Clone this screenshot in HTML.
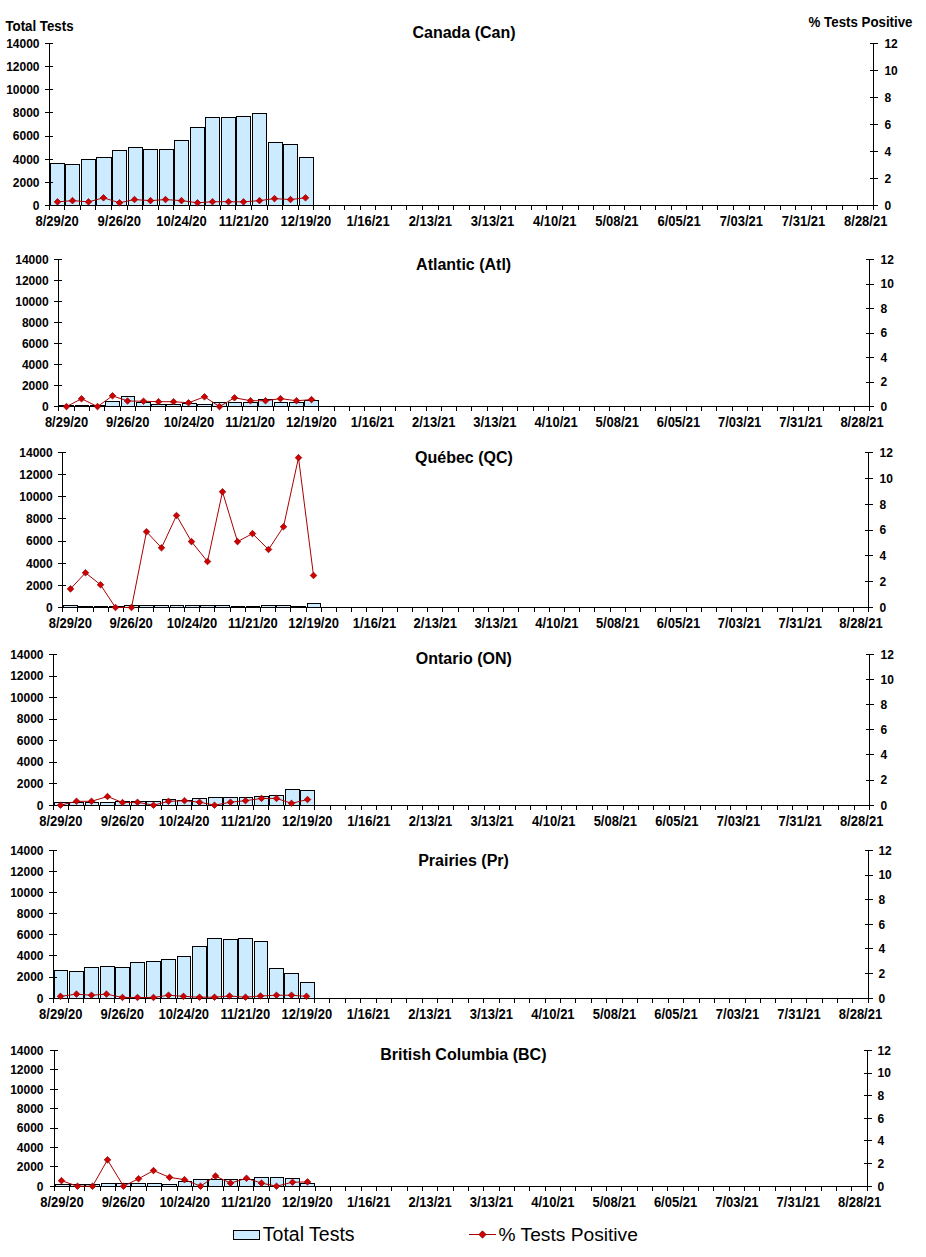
<!DOCTYPE html><html><head><meta charset="utf-8"><style>html,body{margin:0;padding:0;background:#fff;}body{width:926px;height:1257px;overflow:hidden;}svg{display:block;}text{font-family:"Liberation Sans",sans-serif;fill:#000;}.b{font-weight:bold;}</style></head><body>
<svg width="926" height="1257" viewBox="0 0 926 1257">
<g shape-rendering="crispEdges"><rect x="50.5" y="163.5" width="14" height="42" fill="#CCEBFF" stroke="#000" stroke-width="1"/><rect x="65.5" y="164.5" width="14" height="41" fill="#CCEBFF" stroke="#000" stroke-width="1"/><rect x="81.5" y="159.5" width="14" height="46" fill="#CCEBFF" stroke="#000" stroke-width="1"/><rect x="96.5" y="157.5" width="15" height="48" fill="#CCEBFF" stroke="#000" stroke-width="1"/><rect x="112.5" y="150.5" width="14" height="55" fill="#CCEBFF" stroke="#000" stroke-width="1"/><rect x="128.5" y="147.5" width="14" height="58" fill="#CCEBFF" stroke="#000" stroke-width="1"/><rect x="143.5" y="149.5" width="14" height="56" fill="#CCEBFF" stroke="#000" stroke-width="1"/><rect x="159.5" y="149.5" width="14" height="56" fill="#CCEBFF" stroke="#000" stroke-width="1"/><rect x="174.5" y="140.5" width="14" height="65" fill="#CCEBFF" stroke="#000" stroke-width="1"/><rect x="190.5" y="127.5" width="14" height="78" fill="#CCEBFF" stroke="#000" stroke-width="1"/><rect x="205.5" y="117.5" width="14" height="88" fill="#CCEBFF" stroke="#000" stroke-width="1"/><rect x="221.5" y="117.5" width="14" height="88" fill="#CCEBFF" stroke="#000" stroke-width="1"/><rect x="236.5" y="116.5" width="14" height="89" fill="#CCEBFF" stroke="#000" stroke-width="1"/><rect x="252.5" y="113.5" width="14" height="92" fill="#CCEBFF" stroke="#000" stroke-width="1"/><rect x="268.5" y="142.5" width="14" height="63" fill="#CCEBFF" stroke="#000" stroke-width="1"/><rect x="283.5" y="144.5" width="14" height="61" fill="#CCEBFF" stroke="#000" stroke-width="1"/><rect x="299.5" y="157.5" width="14" height="48" fill="#CCEBFF" stroke="#000" stroke-width="1"/><path d="M49.5 43 V206 M873.5 43 V206 M49 205.5 H874" stroke="#000" stroke-width="1" fill="none"/><path d="M45 205.5 H53 M45 182.5 H53 M45 159.5 H53 M45 136.5 H53 M45 112.5 H53 M45 89.5 H53 M45 66.5 H53 M45 43.5 H53 M870 205.5 H878 M870 178.5 H878 M870 151.5 H878 M870 124.5 H878 M870 97.5 H878 M870 70.5 H878 M870 43.5 H878 M49.5 205 V210 M64.5 205 V210 M80.5 205 V210 M95.5 205 V210 M111.5 205 V210 M127.5 205 V210 M142.5 205 V210 M158.5 205 V210 M173.5 205 V210 M189.5 205 V210 M204.5 205 V210 M220.5 205 V210 M235.5 205 V210 M251.5 205 V210 M267.5 205 V210 M282.5 205 V210 M298.5 205 V210 M313.5 205 V210 M329.5 205 V210 M344.5 205 V210 M360.5 205 V210 M375.5 205 V210 M391.5 205 V210 M406.5 205 V210 M422.5 205 V210 M438.5 205 V210 M453.5 205 V210 M469.5 205 V210 M484.5 205 V210 M500.5 205 V210 M515.5 205 V210 M531.5 205 V210 M546.5 205 V210 M562.5 205 V210 M578.5 205 V210 M593.5 205 V210 M609.5 205 V210 M624.5 205 V210 M640.5 205 V210 M655.5 205 V210 M671.5 205 V210 M686.5 205 V210 M702.5 205 V210 M717.5 205 V210 M733.5 205 V210 M749.5 205 V210 M764.5 205 V210 M780.5 205 V210 M795.5 205 V210 M811.5 205 V210 M826.5 205 V210 M842.5 205 V210 M857.5 205 V210 M873.5 205 V210" stroke="#000" stroke-width="1" fill="none"/><path d="M57.50 201.85 L72.50 200.64 L88.50 201.85 L103.50 197.81 L119.50 202.80 L134.50 199.56 L150.50 200.64 L165.50 199.56 L181.50 200.64 L197.50 202.80 L212.50 201.72 L228.50 201.72 L243.50 201.85 L259.50 200.64 L274.50 198.62 L290.50 199.56 L305.50 197.81" stroke="#A80000" stroke-width="1" fill="none" shape-rendering="auto"/><path d="M57.50 198.55 L60.80 201.85 L57.50 205.16 L54.20 201.85Z" fill="#D00000" stroke="#8A0000" stroke-width="0.7" shape-rendering="auto"/><path d="M72.50 197.34 L75.80 200.64 L72.50 203.94 L69.20 200.64Z" fill="#D00000" stroke="#8A0000" stroke-width="0.7" shape-rendering="auto"/><path d="M88.50 198.55 L91.80 201.85 L88.50 205.16 L85.20 201.85Z" fill="#D00000" stroke="#8A0000" stroke-width="0.7" shape-rendering="auto"/><path d="M103.50 194.50 L106.80 197.81 L103.50 201.11 L100.20 197.81Z" fill="#D00000" stroke="#8A0000" stroke-width="0.7" shape-rendering="auto"/><path d="M119.50 199.50 L122.80 202.80 L119.50 206.10 L116.20 202.80Z" fill="#D00000" stroke="#8A0000" stroke-width="0.7" shape-rendering="auto"/><path d="M134.50 196.26 L137.80 199.56 L134.50 202.86 L131.20 199.56Z" fill="#D00000" stroke="#8A0000" stroke-width="0.7" shape-rendering="auto"/><path d="M150.50 197.34 L153.80 200.64 L150.50 203.94 L147.20 200.64Z" fill="#D00000" stroke="#8A0000" stroke-width="0.7" shape-rendering="auto"/><path d="M165.50 196.26 L168.80 199.56 L165.50 202.86 L162.20 199.56Z" fill="#D00000" stroke="#8A0000" stroke-width="0.7" shape-rendering="auto"/><path d="M181.50 197.34 L184.80 200.64 L181.50 203.94 L178.20 200.64Z" fill="#D00000" stroke="#8A0000" stroke-width="0.7" shape-rendering="auto"/><path d="M197.50 199.50 L200.80 202.80 L197.50 206.10 L194.20 202.80Z" fill="#D00000" stroke="#8A0000" stroke-width="0.7" shape-rendering="auto"/><path d="M212.50 198.42 L215.80 201.72 L212.50 205.02 L209.20 201.72Z" fill="#D00000" stroke="#8A0000" stroke-width="0.7" shape-rendering="auto"/><path d="M228.50 198.42 L231.80 201.72 L228.50 205.02 L225.20 201.72Z" fill="#D00000" stroke="#8A0000" stroke-width="0.7" shape-rendering="auto"/><path d="M243.50 198.55 L246.80 201.85 L243.50 205.16 L240.20 201.85Z" fill="#D00000" stroke="#8A0000" stroke-width="0.7" shape-rendering="auto"/><path d="M259.50 197.34 L262.80 200.64 L259.50 203.94 L256.20 200.64Z" fill="#D00000" stroke="#8A0000" stroke-width="0.7" shape-rendering="auto"/><path d="M274.50 195.31 L277.80 198.62 L274.50 201.92 L271.20 198.62Z" fill="#D00000" stroke="#8A0000" stroke-width="0.7" shape-rendering="auto"/><path d="M290.50 196.26 L293.80 199.56 L290.50 202.86 L287.20 199.56Z" fill="#D00000" stroke="#8A0000" stroke-width="0.7" shape-rendering="auto"/><path d="M305.50 194.50 L308.80 197.81 L305.50 201.11 L302.20 197.81Z" fill="#D00000" stroke="#8A0000" stroke-width="0.7" shape-rendering="auto"/></g>
<text class="b" x="39.5" y="209.8" font-size="12" text-anchor="end">0</text>
<text class="b" x="39.5" y="186.7" font-size="12" text-anchor="end">2000</text>
<text class="b" x="39.5" y="163.5" font-size="12" text-anchor="end">4000</text>
<text class="b" x="39.5" y="140.4" font-size="12" text-anchor="end">6000</text>
<text class="b" x="39.5" y="117.2" font-size="12" text-anchor="end">8000</text>
<text class="b" x="39.5" y="94.1" font-size="12" text-anchor="end">10000</text>
<text class="b" x="39.5" y="70.9" font-size="12" text-anchor="end">12000</text>
<text class="b" x="39.5" y="47.8" font-size="12" text-anchor="end">14000</text>
<text class="b" x="884.4" y="209.8" font-size="12">0</text>
<text class="b" x="884.4" y="182.8" font-size="12">2</text>
<text class="b" x="884.4" y="155.8" font-size="12">4</text>
<text class="b" x="884.4" y="128.8" font-size="12">6</text>
<text class="b" x="884.4" y="101.8" font-size="12">8</text>
<text class="b" x="884.4" y="74.8" font-size="12">10</text>
<text class="b" x="884.4" y="47.8" font-size="12">12</text>
<text class="b" transform="translate(57.08 226.10) scale(1 1.1)" font-size="13" text-anchor="middle">8/29/20</text>
<text class="b" transform="translate(119.28 226.10) scale(1 1.1)" font-size="13" text-anchor="middle">9/26/20</text>
<text class="b" transform="translate(181.48 226.10) scale(1 1.1)" font-size="13" text-anchor="middle">10/24/20</text>
<text class="b" transform="translate(243.69 226.10) scale(1 1.1)" font-size="13" text-anchor="middle">11/21/20</text>
<text class="b" transform="translate(305.89 226.10) scale(1 1.1)" font-size="13" text-anchor="middle">12/19/20</text>
<text class="b" transform="translate(368.09 226.10) scale(1 1.1)" font-size="13" text-anchor="middle">1/16/21</text>
<text class="b" transform="translate(430.30 226.10) scale(1 1.1)" font-size="13" text-anchor="middle">2/13/21</text>
<text class="b" transform="translate(492.50 226.10) scale(1 1.1)" font-size="13" text-anchor="middle">3/13/21</text>
<text class="b" transform="translate(554.71 226.10) scale(1 1.1)" font-size="13" text-anchor="middle">4/10/21</text>
<text class="b" transform="translate(616.91 226.10) scale(1 1.1)" font-size="13" text-anchor="middle">5/08/21</text>
<text class="b" transform="translate(679.11 226.10) scale(1 1.1)" font-size="13" text-anchor="middle">6/05/21</text>
<text class="b" transform="translate(741.32 226.10) scale(1 1.1)" font-size="13" text-anchor="middle">7/03/21</text>
<text class="b" transform="translate(803.52 226.10) scale(1 1.1)" font-size="13" text-anchor="middle">7/31/21</text>
<text class="b" transform="translate(865.72 226.10) scale(1 1.1)" font-size="13" text-anchor="middle">8/28/21</text>
<text class="b" x="464.0" y="37.5" font-size="16" text-anchor="middle">Canada (Can)</text>
<g shape-rendering="crispEdges"><rect x="59.5" y="405.5" width="14" height="1" fill="#CCEBFF" stroke="#000" stroke-width="1"/><rect x="75.5" y="405.5" width="13" height="1" fill="#CCEBFF" stroke="#000" stroke-width="1"/><rect x="90.5" y="405.5" width="14" height="1" fill="#CCEBFF" stroke="#000" stroke-width="1"/><rect x="105.5" y="401.5" width="14" height="5" fill="#CCEBFF" stroke="#000" stroke-width="1"/><rect x="121.5" y="396.5" width="13" height="10" fill="#CCEBFF" stroke="#000" stroke-width="1"/><rect x="136.5" y="402.5" width="14" height="4" fill="#CCEBFF" stroke="#000" stroke-width="1"/><rect x="151.5" y="404.5" width="14" height="2" fill="#CCEBFF" stroke="#000" stroke-width="1"/><rect x="166.5" y="404.5" width="14" height="2" fill="#CCEBFF" stroke="#000" stroke-width="1"/><rect x="182.5" y="403.5" width="14" height="3" fill="#CCEBFF" stroke="#000" stroke-width="1"/><rect x="197.5" y="404.5" width="14" height="2" fill="#CCEBFF" stroke="#000" stroke-width="1"/><rect x="212.5" y="402.5" width="14" height="4" fill="#CCEBFF" stroke="#000" stroke-width="1"/><rect x="228.5" y="402.5" width="13" height="4" fill="#CCEBFF" stroke="#000" stroke-width="1"/><rect x="243.5" y="402.5" width="14" height="4" fill="#CCEBFF" stroke="#000" stroke-width="1"/><rect x="258.5" y="399.5" width="14" height="7" fill="#CCEBFF" stroke="#000" stroke-width="1"/><rect x="274.5" y="402.5" width="13" height="4" fill="#CCEBFF" stroke="#000" stroke-width="1"/><rect x="289.5" y="402.5" width="14" height="4" fill="#CCEBFF" stroke="#000" stroke-width="1"/><rect x="304.5" y="400.5" width="14" height="6" fill="#CCEBFF" stroke="#000" stroke-width="1"/><path d="M58.5 259 V407 M869.5 259 V407 M58 406.5 H870" stroke="#000" stroke-width="1" fill="none"/><path d="M54 406.5 H62 M54 385.5 H62 M54 364.5 H62 M54 343.5 H62 M54 322.5 H62 M54 301.5 H62 M54 280.5 H62 M54 259.5 H62 M866 406.5 H874 M866 382.5 H874 M866 357.5 H874 M866 333.5 H874 M866 308.5 H874 M866 284.5 H874 M866 259.5 H874 M58.5 406 V411 M74.5 406 V411 M89.5 406 V411 M104.5 406 V411 M120.5 406 V411 M135.5 406 V411 M150.5 406 V411 M165.5 406 V411 M181.5 406 V411 M196.5 406 V411 M211.5 406 V411 M227.5 406 V411 M242.5 406 V411 M257.5 406 V411 M273.5 406 V411 M288.5 406 V411 M303.5 406 V411 M318.5 406 V411 M334.5 406 V411 M349.5 406 V411 M364.5 406 V411 M380.5 406 V411 M395.5 406 V411 M410.5 406 V411 M426.5 406 V411 M441.5 406 V411 M456.5 406 V411 M471.5 406 V411 M487.5 406 V411 M502.5 406 V411 M517.5 406 V411 M533.5 406 V411 M548.5 406 V411 M563.5 406 V411 M579.5 406 V411 M594.5 406 V411 M609.5 406 V411 M624.5 406 V411 M640.5 406 V411 M655.5 406 V411 M670.5 406 V411 M686.5 406 V411 M701.5 406 V411 M716.5 406 V411 M732.5 406 V411 M747.5 406 V411 M762.5 406 V411 M777.5 406 V411 M793.5 406 V411 M808.5 406 V411 M823.5 406 V411 M839.5 406 V411 M854.5 406 V411 M869.5 406 V411" stroke="#000" stroke-width="1" fill="none"/><path d="M66.50 406.60 L81.50 398.76 L97.50 406.60 L112.50 395.82 L127.50 400.97 L143.50 401.21 L158.50 401.70 L173.50 401.70 L188.50 402.80 L204.50 396.80 L219.50 406.60 L234.50 397.78 L250.50 400.72 L265.50 400.72 L280.50 398.64 L296.50 400.72 L311.50 399.62" stroke="#A80000" stroke-width="1" fill="none" shape-rendering="auto"/><path d="M66.50 403.30 L69.80 406.60 L66.50 409.90 L63.20 406.60Z" fill="#D00000" stroke="#8A0000" stroke-width="0.7" shape-rendering="auto"/><path d="M81.50 395.46 L84.80 398.76 L81.50 402.06 L78.20 398.76Z" fill="#D00000" stroke="#8A0000" stroke-width="0.7" shape-rendering="auto"/><path d="M97.50 403.30 L100.80 406.60 L97.50 409.90 L94.20 406.60Z" fill="#D00000" stroke="#8A0000" stroke-width="0.7" shape-rendering="auto"/><path d="M112.50 392.52 L115.80 395.82 L112.50 399.12 L109.20 395.82Z" fill="#D00000" stroke="#8A0000" stroke-width="0.7" shape-rendering="auto"/><path d="M127.50 397.67 L130.80 400.97 L127.50 404.27 L124.20 400.97Z" fill="#D00000" stroke="#8A0000" stroke-width="0.7" shape-rendering="auto"/><path d="M143.50 397.91 L146.80 401.21 L143.50 404.51 L140.20 401.21Z" fill="#D00000" stroke="#8A0000" stroke-width="0.7" shape-rendering="auto"/><path d="M158.50 398.40 L161.80 401.70 L158.50 405.00 L155.20 401.70Z" fill="#D00000" stroke="#8A0000" stroke-width="0.7" shape-rendering="auto"/><path d="M173.50 398.40 L176.80 401.70 L173.50 405.00 L170.20 401.70Z" fill="#D00000" stroke="#8A0000" stroke-width="0.7" shape-rendering="auto"/><path d="M188.50 399.50 L191.80 402.80 L188.50 406.10 L185.20 402.80Z" fill="#D00000" stroke="#8A0000" stroke-width="0.7" shape-rendering="auto"/><path d="M204.50 393.50 L207.80 396.80 L204.50 400.10 L201.20 396.80Z" fill="#D00000" stroke="#8A0000" stroke-width="0.7" shape-rendering="auto"/><path d="M219.50 403.30 L222.80 406.60 L219.50 409.90 L216.20 406.60Z" fill="#D00000" stroke="#8A0000" stroke-width="0.7" shape-rendering="auto"/><path d="M234.50 394.48 L237.80 397.78 L234.50 401.08 L231.20 397.78Z" fill="#D00000" stroke="#8A0000" stroke-width="0.7" shape-rendering="auto"/><path d="M250.50 397.42 L253.80 400.72 L250.50 404.02 L247.20 400.72Z" fill="#D00000" stroke="#8A0000" stroke-width="0.7" shape-rendering="auto"/><path d="M265.50 397.42 L268.80 400.72 L265.50 404.02 L262.20 400.72Z" fill="#D00000" stroke="#8A0000" stroke-width="0.7" shape-rendering="auto"/><path d="M280.50 395.34 L283.80 398.64 L280.50 401.94 L277.20 398.64Z" fill="#D00000" stroke="#8A0000" stroke-width="0.7" shape-rendering="auto"/><path d="M296.50 397.42 L299.80 400.72 L296.50 404.02 L293.20 400.72Z" fill="#D00000" stroke="#8A0000" stroke-width="0.7" shape-rendering="auto"/><path d="M311.50 396.32 L314.80 399.62 L311.50 402.92 L308.20 399.62Z" fill="#D00000" stroke="#8A0000" stroke-width="0.7" shape-rendering="auto"/></g>
<text class="b" x="48.6" y="410.9" font-size="12" text-anchor="end">0</text>
<text class="b" x="48.6" y="389.9" font-size="12" text-anchor="end">2000</text>
<text class="b" x="48.6" y="368.9" font-size="12" text-anchor="end">4000</text>
<text class="b" x="48.6" y="347.9" font-size="12" text-anchor="end">6000</text>
<text class="b" x="48.6" y="326.9" font-size="12" text-anchor="end">8000</text>
<text class="b" x="48.6" y="305.9" font-size="12" text-anchor="end">10000</text>
<text class="b" x="48.6" y="284.9" font-size="12" text-anchor="end">12000</text>
<text class="b" x="48.6" y="263.9" font-size="12" text-anchor="end">14000</text>
<text class="b" x="880.5" y="410.9" font-size="12">0</text>
<text class="b" x="880.5" y="386.4" font-size="12">2</text>
<text class="b" x="880.5" y="361.9" font-size="12">4</text>
<text class="b" x="880.5" y="337.4" font-size="12">6</text>
<text class="b" x="880.5" y="312.9" font-size="12">8</text>
<text class="b" x="880.5" y="288.4" font-size="12">10</text>
<text class="b" x="880.5" y="263.9" font-size="12">12</text>
<text class="b" transform="translate(66.55 427.10) scale(1 1.1)" font-size="13" text-anchor="middle">8/29/20</text>
<text class="b" transform="translate(127.74 427.10) scale(1 1.1)" font-size="13" text-anchor="middle">9/26/20</text>
<text class="b" transform="translate(188.93 427.10) scale(1 1.1)" font-size="13" text-anchor="middle">10/24/20</text>
<text class="b" transform="translate(250.13 427.10) scale(1 1.1)" font-size="13" text-anchor="middle">11/21/20</text>
<text class="b" transform="translate(311.32 427.10) scale(1 1.1)" font-size="13" text-anchor="middle">12/19/20</text>
<text class="b" transform="translate(372.51 427.10) scale(1 1.1)" font-size="13" text-anchor="middle">1/16/21</text>
<text class="b" transform="translate(433.70 427.10) scale(1 1.1)" font-size="13" text-anchor="middle">2/13/21</text>
<text class="b" transform="translate(494.90 427.10) scale(1 1.1)" font-size="13" text-anchor="middle">3/13/21</text>
<text class="b" transform="translate(556.09 427.10) scale(1 1.1)" font-size="13" text-anchor="middle">4/10/21</text>
<text class="b" transform="translate(617.28 427.10) scale(1 1.1)" font-size="13" text-anchor="middle">5/08/21</text>
<text class="b" transform="translate(678.47 427.10) scale(1 1.1)" font-size="13" text-anchor="middle">6/05/21</text>
<text class="b" transform="translate(739.67 427.10) scale(1 1.1)" font-size="13" text-anchor="middle">7/03/21</text>
<text class="b" transform="translate(800.86 427.10) scale(1 1.1)" font-size="13" text-anchor="middle">7/31/21</text>
<text class="b" transform="translate(862.05 427.10) scale(1 1.1)" font-size="13" text-anchor="middle">8/28/21</text>
<text class="b" x="463.65000000000003" y="270.09999999999997" font-size="16" text-anchor="middle">Atlantic (Atl)</text>
<g shape-rendering="crispEdges"><rect x="63.5" y="605.5" width="14" height="2" fill="#CCEBFF" stroke="#000" stroke-width="1"/><rect x="78.5" y="606.5" width="14" height="1" fill="#CCEBFF" stroke="#000" stroke-width="1"/><rect x="94.5" y="606.5" width="13" height="1" fill="#CCEBFF" stroke="#000" stroke-width="1"/><rect x="109.5" y="606.5" width="14" height="1" fill="#CCEBFF" stroke="#000" stroke-width="1"/><rect x="124.5" y="605.5" width="14" height="2" fill="#CCEBFF" stroke="#000" stroke-width="1"/><rect x="139.5" y="605.5" width="14" height="2" fill="#CCEBFF" stroke="#000" stroke-width="1"/><rect x="154.5" y="605.5" width="14" height="2" fill="#CCEBFF" stroke="#000" stroke-width="1"/><rect x="170.5" y="605.5" width="13" height="2" fill="#CCEBFF" stroke="#000" stroke-width="1"/><rect x="185.5" y="605.5" width="14" height="2" fill="#CCEBFF" stroke="#000" stroke-width="1"/><rect x="200.5" y="605.5" width="14" height="2" fill="#CCEBFF" stroke="#000" stroke-width="1"/><rect x="215.5" y="605.5" width="14" height="2" fill="#CCEBFF" stroke="#000" stroke-width="1"/><rect x="231.5" y="606.5" width="13" height="1" fill="#CCEBFF" stroke="#000" stroke-width="1"/><rect x="246.5" y="606.5" width="13" height="1" fill="#CCEBFF" stroke="#000" stroke-width="1"/><rect x="261.5" y="605.5" width="14" height="2" fill="#CCEBFF" stroke="#000" stroke-width="1"/><rect x="276.5" y="605.5" width="14" height="2" fill="#CCEBFF" stroke="#000" stroke-width="1"/><rect x="291.5" y="606.5" width="14" height="1" fill="#CCEBFF" stroke="#000" stroke-width="1"/><rect x="307.5" y="603.5" width="13" height="4" fill="#CCEBFF" stroke="#000" stroke-width="1"/><path d="M62.5 452 V608 M868.5 452 V608 M62 607.5 H869" stroke="#000" stroke-width="1" fill="none"/><path d="M58 607.5 H66 M58 585.5 H66 M58 563.5 H66 M58 541.5 H66 M58 518.5 H66 M58 496.5 H66 M58 474.5 H66 M58 452.5 H66 M865 607.5 H873 M865 581.5 H873 M865 555.5 H873 M865 530.5 H873 M865 504.5 H873 M865 478.5 H873 M865 452.5 H873 M62.5 607 V612 M77.5 607 V612 M93.5 607 V612 M108.5 607 V612 M123.5 607 V612 M138.5 607 V612 M153.5 607 V612 M169.5 607 V612 M184.5 607 V612 M199.5 607 V612 M214.5 607 V612 M230.5 607 V612 M245.5 607 V612 M260.5 607 V612 M275.5 607 V612 M290.5 607 V612 M306.5 607 V612 M321.5 607 V612 M336.5 607 V612 M351.5 607 V612 M366.5 607 V612 M382.5 607 V612 M397.5 607 V612 M412.5 607 V612 M427.5 607 V612 M442.5 607 V612 M458.5 607 V612 M473.5 607 V612 M488.5 607 V612 M503.5 607 V612 M518.5 607 V612 M534.5 607 V612 M549.5 607 V612 M564.5 607 V612 M579.5 607 V612 M594.5 607 V612 M610.5 607 V612 M625.5 607 V612 M640.5 607 V612 M655.5 607 V612 M670.5 607 V612 M686.5 607 V612 M701.5 607 V612 M716.5 607 V612 M731.5 607 V612 M746.5 607 V612 M762.5 607 V612 M777.5 607 V612 M792.5 607 V612 M807.5 607 V612 M822.5 607 V612 M838.5 607 V612 M853.5 607 V612 M868.5 607 V612" stroke="#000" stroke-width="1" fill="none"/><path d="M70.50 588.90 L85.50 572.75 L100.50 584.77 L115.50 607.50 L131.50 607.50 L146.50 531.68 L161.50 547.83 L176.50 515.53 L191.50 541.62 L207.50 561.52 L222.50 491.77 L237.50 541.62 L252.50 533.62 L268.50 549.50 L283.50 526.77 L298.50 457.67 L313.50 575.47" stroke="#A80000" stroke-width="1" fill="none" shape-rendering="auto"/><path d="M70.50 585.60 L73.80 588.90 L70.50 592.20 L67.20 588.90Z" fill="#D00000" stroke="#8A0000" stroke-width="0.7" shape-rendering="auto"/><path d="M85.50 569.45 L88.80 572.75 L85.50 576.05 L82.20 572.75Z" fill="#D00000" stroke="#8A0000" stroke-width="0.7" shape-rendering="auto"/><path d="M100.50 581.47 L103.80 584.77 L100.50 588.07 L97.20 584.77Z" fill="#D00000" stroke="#8A0000" stroke-width="0.7" shape-rendering="auto"/><path d="M115.50 604.20 L118.80 607.50 L115.50 610.80 L112.20 607.50Z" fill="#D00000" stroke="#8A0000" stroke-width="0.7" shape-rendering="auto"/><path d="M131.50 604.20 L134.80 607.50 L131.50 610.80 L128.20 607.50Z" fill="#D00000" stroke="#8A0000" stroke-width="0.7" shape-rendering="auto"/><path d="M146.50 528.38 L149.80 531.68 L146.50 534.98 L143.20 531.68Z" fill="#D00000" stroke="#8A0000" stroke-width="0.7" shape-rendering="auto"/><path d="M161.50 544.53 L164.80 547.83 L161.50 551.12 L158.20 547.83Z" fill="#D00000" stroke="#8A0000" stroke-width="0.7" shape-rendering="auto"/><path d="M176.50 512.23 L179.80 515.53 L176.50 518.83 L173.20 515.53Z" fill="#D00000" stroke="#8A0000" stroke-width="0.7" shape-rendering="auto"/><path d="M191.50 538.33 L194.80 541.62 L191.50 544.92 L188.20 541.62Z" fill="#D00000" stroke="#8A0000" stroke-width="0.7" shape-rendering="auto"/><path d="M207.50 558.22 L210.80 561.52 L207.50 564.82 L204.20 561.52Z" fill="#D00000" stroke="#8A0000" stroke-width="0.7" shape-rendering="auto"/><path d="M222.50 488.47 L225.80 491.77 L222.50 495.07 L219.20 491.77Z" fill="#D00000" stroke="#8A0000" stroke-width="0.7" shape-rendering="auto"/><path d="M237.50 538.33 L240.80 541.62 L237.50 544.92 L234.20 541.62Z" fill="#D00000" stroke="#8A0000" stroke-width="0.7" shape-rendering="auto"/><path d="M252.50 530.32 L255.80 533.62 L252.50 536.92 L249.20 533.62Z" fill="#D00000" stroke="#8A0000" stroke-width="0.7" shape-rendering="auto"/><path d="M268.50 546.20 L271.80 549.50 L268.50 552.80 L265.20 549.50Z" fill="#D00000" stroke="#8A0000" stroke-width="0.7" shape-rendering="auto"/><path d="M283.50 523.47 L286.80 526.77 L283.50 530.07 L280.20 526.77Z" fill="#D00000" stroke="#8A0000" stroke-width="0.7" shape-rendering="auto"/><path d="M298.50 454.37 L301.80 457.67 L298.50 460.97 L295.20 457.67Z" fill="#D00000" stroke="#8A0000" stroke-width="0.7" shape-rendering="auto"/><path d="M313.50 572.17 L316.80 575.47 L313.50 578.77 L310.20 575.47Z" fill="#D00000" stroke="#8A0000" stroke-width="0.7" shape-rendering="auto"/></g>
<text class="b" x="52.7" y="611.8" font-size="12" text-anchor="end">0</text>
<text class="b" x="52.7" y="589.7" font-size="12" text-anchor="end">2000</text>
<text class="b" x="52.7" y="567.5" font-size="12" text-anchor="end">4000</text>
<text class="b" x="52.7" y="545.4" font-size="12" text-anchor="end">6000</text>
<text class="b" x="52.7" y="523.2" font-size="12" text-anchor="end">8000</text>
<text class="b" x="52.7" y="501.1" font-size="12" text-anchor="end">10000</text>
<text class="b" x="52.7" y="478.9" font-size="12" text-anchor="end">12000</text>
<text class="b" x="52.7" y="456.8" font-size="12" text-anchor="end">14000</text>
<text class="b" x="879.5" y="611.8" font-size="12">0</text>
<text class="b" x="879.5" y="586.0" font-size="12">2</text>
<text class="b" x="879.5" y="560.1" font-size="12">4</text>
<text class="b" x="879.5" y="534.3" font-size="12">6</text>
<text class="b" x="879.5" y="508.5" font-size="12">8</text>
<text class="b" x="879.5" y="482.6" font-size="12">10</text>
<text class="b" x="879.5" y="456.8" font-size="12">12</text>
<text class="b" transform="translate(70.35 628.10) scale(1 1.1)" font-size="13" text-anchor="middle">8/29/20</text>
<text class="b" transform="translate(131.17 628.10) scale(1 1.1)" font-size="13" text-anchor="middle">9/26/20</text>
<text class="b" transform="translate(191.99 628.10) scale(1 1.1)" font-size="13" text-anchor="middle">10/24/20</text>
<text class="b" transform="translate(252.81 628.10) scale(1 1.1)" font-size="13" text-anchor="middle">11/21/20</text>
<text class="b" transform="translate(313.63 628.10) scale(1 1.1)" font-size="13" text-anchor="middle">12/19/20</text>
<text class="b" transform="translate(374.45 628.10) scale(1 1.1)" font-size="13" text-anchor="middle">1/16/21</text>
<text class="b" transform="translate(435.27 628.10) scale(1 1.1)" font-size="13" text-anchor="middle">2/13/21</text>
<text class="b" transform="translate(496.08 628.10) scale(1 1.1)" font-size="13" text-anchor="middle">3/13/21</text>
<text class="b" transform="translate(556.90 628.10) scale(1 1.1)" font-size="13" text-anchor="middle">4/10/21</text>
<text class="b" transform="translate(617.72 628.10) scale(1 1.1)" font-size="13" text-anchor="middle">5/08/21</text>
<text class="b" transform="translate(678.54 628.10) scale(1 1.1)" font-size="13" text-anchor="middle">6/05/21</text>
<text class="b" transform="translate(739.36 628.10) scale(1 1.1)" font-size="13" text-anchor="middle">7/03/21</text>
<text class="b" transform="translate(800.18 628.10) scale(1 1.1)" font-size="13" text-anchor="middle">7/31/21</text>
<text class="b" transform="translate(861.00 628.10) scale(1 1.1)" font-size="13" text-anchor="middle">8/28/21</text>
<text class="b" x="463.95" y="463.09999999999997" font-size="16" text-anchor="middle">Québec (QC)</text>
<g shape-rendering="crispEdges"><rect x="54.5" y="802.5" width="14" height="3" fill="#CCEBFF" stroke="#000" stroke-width="1"/><rect x="69.5" y="802.5" width="14" height="3" fill="#CCEBFF" stroke="#000" stroke-width="1"/><rect x="85.5" y="802.5" width="13" height="3" fill="#CCEBFF" stroke="#000" stroke-width="1"/><rect x="100.5" y="802.5" width="14" height="3" fill="#CCEBFF" stroke="#000" stroke-width="1"/><rect x="115.5" y="801.5" width="14" height="4" fill="#CCEBFF" stroke="#000" stroke-width="1"/><rect x="131.5" y="801.5" width="14" height="4" fill="#CCEBFF" stroke="#000" stroke-width="1"/><rect x="146.5" y="801.5" width="14" height="4" fill="#CCEBFF" stroke="#000" stroke-width="1"/><rect x="162.5" y="799.5" width="13" height="6" fill="#CCEBFF" stroke="#000" stroke-width="1"/><rect x="177.5" y="800.5" width="14" height="5" fill="#CCEBFF" stroke="#000" stroke-width="1"/><rect x="192.5" y="798.5" width="14" height="7" fill="#CCEBFF" stroke="#000" stroke-width="1"/><rect x="208.5" y="797.5" width="14" height="8" fill="#CCEBFF" stroke="#000" stroke-width="1"/><rect x="223.5" y="797.5" width="14" height="8" fill="#CCEBFF" stroke="#000" stroke-width="1"/><rect x="239.5" y="797.5" width="13" height="8" fill="#CCEBFF" stroke="#000" stroke-width="1"/><rect x="254.5" y="796.5" width="14" height="9" fill="#CCEBFF" stroke="#000" stroke-width="1"/><rect x="269.5" y="795.5" width="14" height="10" fill="#CCEBFF" stroke="#000" stroke-width="1"/><rect x="285.5" y="789.5" width="14" height="16" fill="#CCEBFF" stroke="#000" stroke-width="1"/><rect x="300.5" y="790.5" width="14" height="15" fill="#CCEBFF" stroke="#000" stroke-width="1"/><path d="M53.5 654 V806 M869.5 654 V806 M53 805.5 H870" stroke="#000" stroke-width="1" fill="none"/><path d="M49 805.5 H57 M49 783.5 H57 M49 762.5 H57 M49 740.5 H57 M49 719.5 H57 M49 697.5 H57 M49 676.5 H57 M49 654.5 H57 M866 805.5 H874 M866 780.5 H874 M866 754.5 H874 M866 729.5 H874 M866 704.5 H874 M866 679.5 H874 M866 654.5 H874 M53.5 805 V810 M68.5 805 V810 M84.5 805 V810 M99.5 805 V810 M114.5 805 V810 M130.5 805 V810 M145.5 805 V810 M161.5 805 V810 M176.5 805 V810 M191.5 805 V810 M207.5 805 V810 M222.5 805 V810 M238.5 805 V810 M253.5 805 V810 M268.5 805 V810 M284.5 805 V810 M299.5 805 V810 M314.5 805 V810 M330.5 805 V810 M345.5 805 V810 M361.5 805 V810 M376.5 805 V810 M391.5 805 V810 M407.5 805 V810 M422.5 805 V810 M438.5 805 V810 M453.5 805 V810 M468.5 805 V810 M484.5 805 V810 M499.5 805 V810 M515.5 805 V810 M530.5 805 V810 M546.5 805 V810 M561.5 805 V810 M576.5 805 V810 M592.5 805 V810 M607.5 805 V810 M623.5 805 V810 M638.5 805 V810 M653.5 805 V810 M669.5 805 V810 M684.5 805 V810 M700.5 805 V810 M715.5 805 V810 M730.5 805 V810 M746.5 805 V810 M761.5 805 V810 M777.5 805 V810 M792.5 805 V810 M807.5 805 V810 M823.5 805 V810 M838.5 805 V810 M854.5 805 V810 M869.5 805 V810" stroke="#000" stroke-width="1" fill="none"/><path d="M60.50 805.20 L76.50 801.31 L91.50 801.31 L107.50 796.53 L122.50 802.56 L137.50 802.31 L153.50 805.20 L168.50 801.31 L184.50 800.68 L199.50 802.19 L214.50 805.20 L230.50 802.19 L245.50 800.68 L261.50 798.42 L276.50 798.42 L291.50 803.32 L307.50 799.55" stroke="#A80000" stroke-width="1" fill="none" shape-rendering="auto"/><path d="M60.50 801.90 L63.80 805.20 L60.50 808.50 L57.20 805.20Z" fill="#D00000" stroke="#8A0000" stroke-width="0.7" shape-rendering="auto"/><path d="M76.50 798.01 L79.80 801.31 L76.50 804.61 L73.20 801.31Z" fill="#D00000" stroke="#8A0000" stroke-width="0.7" shape-rendering="auto"/><path d="M91.50 798.01 L94.80 801.31 L91.50 804.61 L88.20 801.31Z" fill="#D00000" stroke="#8A0000" stroke-width="0.7" shape-rendering="auto"/><path d="M107.50 793.23 L110.80 796.53 L107.50 799.83 L104.20 796.53Z" fill="#D00000" stroke="#8A0000" stroke-width="0.7" shape-rendering="auto"/><path d="M122.50 799.26 L125.80 802.56 L122.50 805.86 L119.20 802.56Z" fill="#D00000" stroke="#8A0000" stroke-width="0.7" shape-rendering="auto"/><path d="M137.50 799.01 L140.80 802.31 L137.50 805.61 L134.20 802.31Z" fill="#D00000" stroke="#8A0000" stroke-width="0.7" shape-rendering="auto"/><path d="M153.50 801.90 L156.80 805.20 L153.50 808.50 L150.20 805.20Z" fill="#D00000" stroke="#8A0000" stroke-width="0.7" shape-rendering="auto"/><path d="M168.50 798.01 L171.80 801.31 L168.50 804.61 L165.20 801.31Z" fill="#D00000" stroke="#8A0000" stroke-width="0.7" shape-rendering="auto"/><path d="M184.50 797.38 L187.80 800.68 L184.50 803.98 L181.20 800.68Z" fill="#D00000" stroke="#8A0000" stroke-width="0.7" shape-rendering="auto"/><path d="M199.50 798.89 L202.80 802.19 L199.50 805.49 L196.20 802.19Z" fill="#D00000" stroke="#8A0000" stroke-width="0.7" shape-rendering="auto"/><path d="M214.50 801.90 L217.80 805.20 L214.50 808.50 L211.20 805.20Z" fill="#D00000" stroke="#8A0000" stroke-width="0.7" shape-rendering="auto"/><path d="M230.50 798.89 L233.80 802.19 L230.50 805.49 L227.20 802.19Z" fill="#D00000" stroke="#8A0000" stroke-width="0.7" shape-rendering="auto"/><path d="M245.50 797.38 L248.80 800.68 L245.50 803.98 L242.20 800.68Z" fill="#D00000" stroke="#8A0000" stroke-width="0.7" shape-rendering="auto"/><path d="M261.50 795.12 L264.80 798.42 L261.50 801.72 L258.20 798.42Z" fill="#D00000" stroke="#8A0000" stroke-width="0.7" shape-rendering="auto"/><path d="M276.50 795.12 L279.80 798.42 L276.50 801.72 L273.20 798.42Z" fill="#D00000" stroke="#8A0000" stroke-width="0.7" shape-rendering="auto"/><path d="M291.50 800.02 L294.80 803.32 L291.50 806.62 L288.20 803.32Z" fill="#D00000" stroke="#8A0000" stroke-width="0.7" shape-rendering="auto"/><path d="M307.50 796.25 L310.80 799.55 L307.50 802.85 L304.20 799.55Z" fill="#D00000" stroke="#8A0000" stroke-width="0.7" shape-rendering="auto"/></g>
<text class="b" x="43.5" y="809.5" font-size="12" text-anchor="end">0</text>
<text class="b" x="43.5" y="788.0" font-size="12" text-anchor="end">2000</text>
<text class="b" x="43.5" y="766.4" font-size="12" text-anchor="end">4000</text>
<text class="b" x="43.5" y="744.9" font-size="12" text-anchor="end">6000</text>
<text class="b" x="43.5" y="723.4" font-size="12" text-anchor="end">8000</text>
<text class="b" x="43.5" y="701.9" font-size="12" text-anchor="end">10000</text>
<text class="b" x="43.5" y="680.3" font-size="12" text-anchor="end">12000</text>
<text class="b" x="43.5" y="658.8" font-size="12" text-anchor="end">14000</text>
<text class="b" x="880.5" y="809.5" font-size="12">0</text>
<text class="b" x="880.5" y="784.4" font-size="12">2</text>
<text class="b" x="880.5" y="759.3" font-size="12">4</text>
<text class="b" x="880.5" y="734.1" font-size="12">6</text>
<text class="b" x="880.5" y="709.0" font-size="12">8</text>
<text class="b" x="880.5" y="683.9" font-size="12">10</text>
<text class="b" x="880.5" y="658.8" font-size="12">12</text>
<text class="b" transform="translate(60.90 826.10) scale(1 1.1)" font-size="13" text-anchor="middle">8/29/20</text>
<text class="b" transform="translate(122.50 826.10) scale(1 1.1)" font-size="13" text-anchor="middle">9/26/20</text>
<text class="b" transform="translate(184.10 826.10) scale(1 1.1)" font-size="13" text-anchor="middle">10/24/20</text>
<text class="b" transform="translate(245.70 826.10) scale(1 1.1)" font-size="13" text-anchor="middle">11/21/20</text>
<text class="b" transform="translate(307.30 826.10) scale(1 1.1)" font-size="13" text-anchor="middle">12/19/20</text>
<text class="b" transform="translate(368.90 826.10) scale(1 1.1)" font-size="13" text-anchor="middle">1/16/21</text>
<text class="b" transform="translate(430.50 826.10) scale(1 1.1)" font-size="13" text-anchor="middle">2/13/21</text>
<text class="b" transform="translate(492.10 826.10) scale(1 1.1)" font-size="13" text-anchor="middle">3/13/21</text>
<text class="b" transform="translate(553.70 826.10) scale(1 1.1)" font-size="13" text-anchor="middle">4/10/21</text>
<text class="b" transform="translate(615.30 826.10) scale(1 1.1)" font-size="13" text-anchor="middle">5/08/21</text>
<text class="b" transform="translate(676.90 826.10) scale(1 1.1)" font-size="13" text-anchor="middle">6/05/21</text>
<text class="b" transform="translate(738.50 826.10) scale(1 1.1)" font-size="13" text-anchor="middle">7/03/21</text>
<text class="b" transform="translate(800.10 826.10) scale(1 1.1)" font-size="13" text-anchor="middle">7/31/21</text>
<text class="b" transform="translate(861.70 826.10) scale(1 1.1)" font-size="13" text-anchor="middle">8/28/21</text>
<text class="b" x="463.8" y="663.6" font-size="16" text-anchor="middle">Ontario (ON)</text>
<g shape-rendering="crispEdges"><rect x="54.5" y="970.5" width="13" height="28" fill="#CCEBFF" stroke="#000" stroke-width="1"/><rect x="69.5" y="971.5" width="14" height="27" fill="#CCEBFF" stroke="#000" stroke-width="1"/><rect x="84.5" y="967.5" width="14" height="31" fill="#CCEBFF" stroke="#000" stroke-width="1"/><rect x="100.5" y="966.5" width="14" height="32" fill="#CCEBFF" stroke="#000" stroke-width="1"/><rect x="115.5" y="967.5" width="14" height="31" fill="#CCEBFF" stroke="#000" stroke-width="1"/><rect x="130.5" y="962.5" width="14" height="36" fill="#CCEBFF" stroke="#000" stroke-width="1"/><rect x="146.5" y="961.5" width="14" height="37" fill="#CCEBFF" stroke="#000" stroke-width="1"/><rect x="161.5" y="959.5" width="14" height="39" fill="#CCEBFF" stroke="#000" stroke-width="1"/><rect x="177.5" y="956.5" width="13" height="42" fill="#CCEBFF" stroke="#000" stroke-width="1"/><rect x="192.5" y="946.5" width="14" height="52" fill="#CCEBFF" stroke="#000" stroke-width="1"/><rect x="207.5" y="938.5" width="14" height="60" fill="#CCEBFF" stroke="#000" stroke-width="1"/><rect x="223.5" y="939.5" width="14" height="59" fill="#CCEBFF" stroke="#000" stroke-width="1"/><rect x="238.5" y="938.5" width="14" height="60" fill="#CCEBFF" stroke="#000" stroke-width="1"/><rect x="254.5" y="941.5" width="13" height="57" fill="#CCEBFF" stroke="#000" stroke-width="1"/><rect x="269.5" y="968.5" width="14" height="30" fill="#CCEBFF" stroke="#000" stroke-width="1"/><rect x="284.5" y="973.5" width="14" height="25" fill="#CCEBFF" stroke="#000" stroke-width="1"/><rect x="300.5" y="982.5" width="14" height="16" fill="#CCEBFF" stroke="#000" stroke-width="1"/><path d="M53.5 850 V999 M868.5 850 V999 M53 998.5 H869" stroke="#000" stroke-width="1" fill="none"/><path d="M49 998.5 H57 M49 977.5 H57 M49 955.5 H57 M49 934.5 H57 M49 913.5 H57 M49 892.5 H57 M49 871.5 H57 M49 850.5 H57 M865 998.5 H873 M865 973.5 H873 M865 948.5 H873 M865 924.5 H873 M865 899.5 H873 M865 875.5 H873 M865 850.5 H873 M53.5 998 V1003 M68.5 998 V1003 M83.5 998 V1003 M99.5 998 V1003 M114.5 998 V1003 M129.5 998 V1003 M145.5 998 V1003 M160.5 998 V1003 M176.5 998 V1003 M191.5 998 V1003 M206.5 998 V1003 M222.5 998 V1003 M237.5 998 V1003 M253.5 998 V1003 M268.5 998 V1003 M283.5 998 V1003 M299.5 998 V1003 M314.5 998 V1003 M329.5 998 V1003 M345.5 998 V1003 M360.5 998 V1003 M376.5 998 V1003 M391.5 998 V1003 M406.5 998 V1003 M422.5 998 V1003 M437.5 998 V1003 M452.5 998 V1003 M468.5 998 V1003 M483.5 998 V1003 M499.5 998 V1003 M514.5 998 V1003 M529.5 998 V1003 M545.5 998 V1003 M560.5 998 V1003 M575.5 998 V1003 M591.5 998 V1003 M606.5 998 V1003 M622.5 998 V1003 M637.5 998 V1003 M652.5 998 V1003 M668.5 998 V1003 M683.5 998 V1003 M699.5 998 V1003 M714.5 998 V1003 M729.5 998 V1003 M745.5 998 V1003 M760.5 998 V1003 M775.5 998 V1003 M791.5 998 V1003 M806.5 998 V1003 M822.5 998 V1003 M837.5 998 V1003 M852.5 998 V1003 M868.5 998 V1003" stroke="#000" stroke-width="1" fill="none"/><path d="M60.50 996.35 L76.50 994.14 L91.50 995.24 L106.50 994.14 L122.50 997.46 L137.50 997.46 L153.50 997.46 L168.50 995.24 L183.50 996.35 L199.50 997.21 L214.50 997.21 L229.50 995.98 L245.50 997.21 L260.50 995.98 L276.50 995.24 L291.50 995.24 L306.50 996.35" stroke="#A80000" stroke-width="1" fill="none" shape-rendering="auto"/><path d="M60.50 993.05 L63.80 996.35 L60.50 999.65 L57.20 996.35Z" fill="#D00000" stroke="#8A0000" stroke-width="0.7" shape-rendering="auto"/><path d="M76.50 990.84 L79.80 994.14 L76.50 997.44 L73.20 994.14Z" fill="#D00000" stroke="#8A0000" stroke-width="0.7" shape-rendering="auto"/><path d="M91.50 991.94 L94.80 995.24 L91.50 998.54 L88.20 995.24Z" fill="#D00000" stroke="#8A0000" stroke-width="0.7" shape-rendering="auto"/><path d="M106.50 990.84 L109.80 994.14 L106.50 997.44 L103.20 994.14Z" fill="#D00000" stroke="#8A0000" stroke-width="0.7" shape-rendering="auto"/><path d="M122.50 994.16 L125.80 997.46 L122.50 1000.76 L119.20 997.46Z" fill="#D00000" stroke="#8A0000" stroke-width="0.7" shape-rendering="auto"/><path d="M137.50 994.16 L140.80 997.46 L137.50 1000.76 L134.20 997.46Z" fill="#D00000" stroke="#8A0000" stroke-width="0.7" shape-rendering="auto"/><path d="M153.50 994.16 L156.80 997.46 L153.50 1000.76 L150.20 997.46Z" fill="#D00000" stroke="#8A0000" stroke-width="0.7" shape-rendering="auto"/><path d="M168.50 991.94 L171.80 995.24 L168.50 998.54 L165.20 995.24Z" fill="#D00000" stroke="#8A0000" stroke-width="0.7" shape-rendering="auto"/><path d="M183.50 993.05 L186.80 996.35 L183.50 999.65 L180.20 996.35Z" fill="#D00000" stroke="#8A0000" stroke-width="0.7" shape-rendering="auto"/><path d="M199.50 993.91 L202.80 997.21 L199.50 1000.51 L196.20 997.21Z" fill="#D00000" stroke="#8A0000" stroke-width="0.7" shape-rendering="auto"/><path d="M214.50 993.91 L217.80 997.21 L214.50 1000.51 L211.20 997.21Z" fill="#D00000" stroke="#8A0000" stroke-width="0.7" shape-rendering="auto"/><path d="M229.50 992.68 L232.80 995.98 L229.50 999.28 L226.20 995.98Z" fill="#D00000" stroke="#8A0000" stroke-width="0.7" shape-rendering="auto"/><path d="M245.50 993.91 L248.80 997.21 L245.50 1000.51 L242.20 997.21Z" fill="#D00000" stroke="#8A0000" stroke-width="0.7" shape-rendering="auto"/><path d="M260.50 992.68 L263.80 995.98 L260.50 999.28 L257.20 995.98Z" fill="#D00000" stroke="#8A0000" stroke-width="0.7" shape-rendering="auto"/><path d="M276.50 991.94 L279.80 995.24 L276.50 998.54 L273.20 995.24Z" fill="#D00000" stroke="#8A0000" stroke-width="0.7" shape-rendering="auto"/><path d="M291.50 991.94 L294.80 995.24 L291.50 998.54 L288.20 995.24Z" fill="#D00000" stroke="#8A0000" stroke-width="0.7" shape-rendering="auto"/><path d="M306.50 993.05 L309.80 996.35 L306.50 999.65 L303.20 996.35Z" fill="#D00000" stroke="#8A0000" stroke-width="0.7" shape-rendering="auto"/></g>
<text class="b" x="43.5" y="1002.5" font-size="12" text-anchor="end">0</text>
<text class="b" x="43.5" y="981.4" font-size="12" text-anchor="end">2000</text>
<text class="b" x="43.5" y="960.3" font-size="12" text-anchor="end">4000</text>
<text class="b" x="43.5" y="939.2" font-size="12" text-anchor="end">6000</text>
<text class="b" x="43.5" y="918.0" font-size="12" text-anchor="end">8000</text>
<text class="b" x="43.5" y="896.9" font-size="12" text-anchor="end">10000</text>
<text class="b" x="43.5" y="875.8" font-size="12" text-anchor="end">12000</text>
<text class="b" x="43.5" y="854.7" font-size="12" text-anchor="end">14000</text>
<text class="b" x="878.4" y="1002.5" font-size="12">0</text>
<text class="b" x="878.4" y="977.9" font-size="12">2</text>
<text class="b" x="878.4" y="953.2" font-size="12">4</text>
<text class="b" x="878.4" y="928.6" font-size="12">6</text>
<text class="b" x="878.4" y="904.0" font-size="12">8</text>
<text class="b" x="878.4" y="879.3" font-size="12">10</text>
<text class="b" x="878.4" y="854.7" font-size="12">12</text>
<text class="b" transform="translate(60.75 1019.10) scale(1 1.1)" font-size="13" text-anchor="middle">8/29/20</text>
<text class="b" transform="translate(122.27 1019.10) scale(1 1.1)" font-size="13" text-anchor="middle">9/26/20</text>
<text class="b" transform="translate(183.79 1019.10) scale(1 1.1)" font-size="13" text-anchor="middle">10/24/20</text>
<text class="b" transform="translate(245.31 1019.10) scale(1 1.1)" font-size="13" text-anchor="middle">11/21/20</text>
<text class="b" transform="translate(306.83 1019.10) scale(1 1.1)" font-size="13" text-anchor="middle">12/19/20</text>
<text class="b" transform="translate(368.35 1019.10) scale(1 1.1)" font-size="13" text-anchor="middle">1/16/21</text>
<text class="b" transform="translate(429.87 1019.10) scale(1 1.1)" font-size="13" text-anchor="middle">2/13/21</text>
<text class="b" transform="translate(491.39 1019.10) scale(1 1.1)" font-size="13" text-anchor="middle">3/13/21</text>
<text class="b" transform="translate(552.91 1019.10) scale(1 1.1)" font-size="13" text-anchor="middle">4/10/21</text>
<text class="b" transform="translate(614.43 1019.10) scale(1 1.1)" font-size="13" text-anchor="middle">5/08/21</text>
<text class="b" transform="translate(675.95 1019.10) scale(1 1.1)" font-size="13" text-anchor="middle">6/05/21</text>
<text class="b" transform="translate(737.47 1019.10) scale(1 1.1)" font-size="13" text-anchor="middle">7/03/21</text>
<text class="b" transform="translate(798.99 1019.10) scale(1 1.1)" font-size="13" text-anchor="middle">7/31/21</text>
<text class="b" transform="translate(860.51 1019.10) scale(1 1.1)" font-size="13" text-anchor="middle">8/28/21</text>
<text class="b" x="463.5" y="865.6" font-size="16" text-anchor="middle">Prairies (Pr)</text>
<g shape-rendering="crispEdges"><rect x="55.5" y="1184.5" width="14" height="2" fill="#CCEBFF" stroke="#000" stroke-width="1"/><rect x="70.5" y="1184.5" width="14" height="2" fill="#CCEBFF" stroke="#000" stroke-width="1"/><rect x="85.5" y="1184.5" width="14" height="2" fill="#CCEBFF" stroke="#000" stroke-width="1"/><rect x="101.5" y="1183.5" width="14" height="3" fill="#CCEBFF" stroke="#000" stroke-width="1"/><rect x="116.5" y="1183.5" width="14" height="3" fill="#CCEBFF" stroke="#000" stroke-width="1"/><rect x="131.5" y="1183.5" width="14" height="3" fill="#CCEBFF" stroke="#000" stroke-width="1"/><rect x="147.5" y="1183.5" width="14" height="3" fill="#CCEBFF" stroke="#000" stroke-width="1"/><rect x="162.5" y="1184.5" width="14" height="2" fill="#CCEBFF" stroke="#000" stroke-width="1"/><rect x="178.5" y="1181.5" width="13" height="5" fill="#CCEBFF" stroke="#000" stroke-width="1"/><rect x="193.5" y="1179.5" width="14" height="7" fill="#CCEBFF" stroke="#000" stroke-width="1"/><rect x="208.5" y="1179.5" width="14" height="7" fill="#CCEBFF" stroke="#000" stroke-width="1"/><rect x="224.5" y="1179.5" width="13" height="7" fill="#CCEBFF" stroke="#000" stroke-width="1"/><rect x="239.5" y="1179.5" width="14" height="7" fill="#CCEBFF" stroke="#000" stroke-width="1"/><rect x="254.5" y="1177.5" width="14" height="9" fill="#CCEBFF" stroke="#000" stroke-width="1"/><rect x="270.5" y="1177.5" width="13" height="9" fill="#CCEBFF" stroke="#000" stroke-width="1"/><rect x="285.5" y="1178.5" width="14" height="8" fill="#CCEBFF" stroke="#000" stroke-width="1"/><rect x="300.5" y="1183.5" width="14" height="3" fill="#CCEBFF" stroke="#000" stroke-width="1"/><path d="M54.5 1050 V1187 M867.5 1050 V1187 M54 1186.5 H868" stroke="#000" stroke-width="1" fill="none"/><path d="M50 1186.5 H58 M50 1166.5 H58 M50 1147.5 H58 M50 1128.5 H58 M50 1108.5 H58 M50 1089.5 H58 M50 1069.5 H58 M50 1050.5 H58 M864 1186.5 H872 M864 1163.5 H872 M864 1140.5 H872 M864 1118.5 H872 M864 1095.5 H872 M864 1073.5 H872 M864 1050.5 H872 M54.5 1186 V1191 M69.5 1186 V1191 M84.5 1186 V1191 M100.5 1186 V1191 M115.5 1186 V1191 M130.5 1186 V1191 M146.5 1186 V1191 M161.5 1186 V1191 M177.5 1186 V1191 M192.5 1186 V1191 M207.5 1186 V1191 M223.5 1186 V1191 M238.5 1186 V1191 M253.5 1186 V1191 M269.5 1186 V1191 M284.5 1186 V1191 M299.5 1186 V1191 M315.5 1186 V1191 M330.5 1186 V1191 M345.5 1186 V1191 M361.5 1186 V1191 M376.5 1186 V1191 M391.5 1186 V1191 M407.5 1186 V1191 M422.5 1186 V1191 M437.5 1186 V1191 M453.5 1186 V1191 M468.5 1186 V1191 M483.5 1186 V1191 M499.5 1186 V1191 M514.5 1186 V1191 M529.5 1186 V1191 M545.5 1186 V1191 M560.5 1186 V1191 M575.5 1186 V1191 M591.5 1186 V1191 M606.5 1186 V1191 M621.5 1186 V1191 M637.5 1186 V1191 M652.5 1186 V1191 M667.5 1186 V1191 M683.5 1186 V1191 M698.5 1186 V1191 M713.5 1186 V1191 M729.5 1186 V1191 M744.5 1186 V1191 M759.5 1186 V1191 M775.5 1186 V1191 M790.5 1186 V1191 M805.5 1186 V1191 M821.5 1186 V1191 M836.5 1186 V1191 M851.5 1186 V1191 M867.5 1186 V1191" stroke="#000" stroke-width="1" fill="none"/><path d="M61.50 1180.65 L77.50 1186.20 L92.50 1186.20 L107.50 1159.83 L123.50 1186.20 L138.50 1178.73 L153.50 1170.58 L169.50 1177.37 L184.50 1179.64 L200.50 1186.20 L215.50 1176.02 L230.50 1183.14 L246.50 1178.28 L261.50 1183.14 L276.50 1186.20 L292.50 1182.24 L307.50 1181.90" stroke="#A80000" stroke-width="1" fill="none" shape-rendering="auto"/><path d="M61.50 1177.35 L64.80 1180.65 L61.50 1183.95 L58.20 1180.65Z" fill="#D00000" stroke="#8A0000" stroke-width="0.7" shape-rendering="auto"/><path d="M77.50 1182.90 L80.80 1186.20 L77.50 1189.50 L74.20 1186.20Z" fill="#D00000" stroke="#8A0000" stroke-width="0.7" shape-rendering="auto"/><path d="M92.50 1182.90 L95.80 1186.20 L92.50 1189.50 L89.20 1186.20Z" fill="#D00000" stroke="#8A0000" stroke-width="0.7" shape-rendering="auto"/><path d="M107.50 1156.53 L110.80 1159.83 L107.50 1163.13 L104.20 1159.83Z" fill="#D00000" stroke="#8A0000" stroke-width="0.7" shape-rendering="auto"/><path d="M123.50 1182.90 L126.80 1186.20 L123.50 1189.50 L120.20 1186.20Z" fill="#D00000" stroke="#8A0000" stroke-width="0.7" shape-rendering="auto"/><path d="M138.50 1175.43 L141.80 1178.73 L138.50 1182.03 L135.20 1178.73Z" fill="#D00000" stroke="#8A0000" stroke-width="0.7" shape-rendering="auto"/><path d="M153.50 1167.28 L156.80 1170.58 L153.50 1173.88 L150.20 1170.58Z" fill="#D00000" stroke="#8A0000" stroke-width="0.7" shape-rendering="auto"/><path d="M169.50 1174.07 L172.80 1177.37 L169.50 1180.67 L166.20 1177.37Z" fill="#D00000" stroke="#8A0000" stroke-width="0.7" shape-rendering="auto"/><path d="M184.50 1176.34 L187.80 1179.64 L184.50 1182.94 L181.20 1179.64Z" fill="#D00000" stroke="#8A0000" stroke-width="0.7" shape-rendering="auto"/><path d="M200.50 1182.90 L203.80 1186.20 L200.50 1189.50 L197.20 1186.20Z" fill="#D00000" stroke="#8A0000" stroke-width="0.7" shape-rendering="auto"/><path d="M215.50 1172.72 L218.80 1176.02 L215.50 1179.32 L212.20 1176.02Z" fill="#D00000" stroke="#8A0000" stroke-width="0.7" shape-rendering="auto"/><path d="M230.50 1179.84 L233.80 1183.14 L230.50 1186.44 L227.20 1183.14Z" fill="#D00000" stroke="#8A0000" stroke-width="0.7" shape-rendering="auto"/><path d="M246.50 1174.98 L249.80 1178.28 L246.50 1181.58 L243.20 1178.28Z" fill="#D00000" stroke="#8A0000" stroke-width="0.7" shape-rendering="auto"/><path d="M261.50 1179.84 L264.80 1183.14 L261.50 1186.44 L258.20 1183.14Z" fill="#D00000" stroke="#8A0000" stroke-width="0.7" shape-rendering="auto"/><path d="M276.50 1182.90 L279.80 1186.20 L276.50 1189.50 L273.20 1186.20Z" fill="#D00000" stroke="#8A0000" stroke-width="0.7" shape-rendering="auto"/><path d="M292.50 1178.94 L295.80 1182.24 L292.50 1185.54 L289.20 1182.24Z" fill="#D00000" stroke="#8A0000" stroke-width="0.7" shape-rendering="auto"/><path d="M307.50 1178.60 L310.80 1181.90 L307.50 1185.20 L304.20 1181.90Z" fill="#D00000" stroke="#8A0000" stroke-width="0.7" shape-rendering="auto"/></g>
<text class="b" x="43.5" y="1190.5" font-size="12" text-anchor="end">0</text>
<text class="b" x="43.5" y="1171.1" font-size="12" text-anchor="end">2000</text>
<text class="b" x="43.5" y="1151.7" font-size="12" text-anchor="end">4000</text>
<text class="b" x="43.5" y="1132.3" font-size="12" text-anchor="end">6000</text>
<text class="b" x="43.5" y="1112.9" font-size="12" text-anchor="end">8000</text>
<text class="b" x="43.5" y="1093.5" font-size="12" text-anchor="end">10000</text>
<text class="b" x="43.5" y="1074.1" font-size="12" text-anchor="end">12000</text>
<text class="b" x="43.5" y="1054.7" font-size="12" text-anchor="end">14000</text>
<text class="b" x="877.6" y="1190.5" font-size="12">0</text>
<text class="b" x="877.6" y="1167.9" font-size="12">2</text>
<text class="b" x="877.6" y="1145.2" font-size="12">4</text>
<text class="b" x="877.6" y="1122.6" font-size="12">6</text>
<text class="b" x="877.6" y="1100.0" font-size="12">8</text>
<text class="b" x="877.6" y="1077.3" font-size="12">10</text>
<text class="b" x="877.6" y="1054.7" font-size="12">12</text>
<text class="b" transform="translate(61.96 1207.10) scale(1 1.1)" font-size="13" text-anchor="middle">8/29/20</text>
<text class="b" transform="translate(123.32 1207.10) scale(1 1.1)" font-size="13" text-anchor="middle">9/26/20</text>
<text class="b" transform="translate(184.68 1207.10) scale(1 1.1)" font-size="13" text-anchor="middle">10/24/20</text>
<text class="b" transform="translate(246.04 1207.10) scale(1 1.1)" font-size="13" text-anchor="middle">11/21/20</text>
<text class="b" transform="translate(307.40 1207.10) scale(1 1.1)" font-size="13" text-anchor="middle">12/19/20</text>
<text class="b" transform="translate(368.76 1207.10) scale(1 1.1)" font-size="13" text-anchor="middle">1/16/21</text>
<text class="b" transform="translate(430.12 1207.10) scale(1 1.1)" font-size="13" text-anchor="middle">2/13/21</text>
<text class="b" transform="translate(491.47 1207.10) scale(1 1.1)" font-size="13" text-anchor="middle">3/13/21</text>
<text class="b" transform="translate(552.83 1207.10) scale(1 1.1)" font-size="13" text-anchor="middle">4/10/21</text>
<text class="b" transform="translate(614.19 1207.10) scale(1 1.1)" font-size="13" text-anchor="middle">5/08/21</text>
<text class="b" transform="translate(675.55 1207.10) scale(1 1.1)" font-size="13" text-anchor="middle">6/05/21</text>
<text class="b" transform="translate(736.91 1207.10) scale(1 1.1)" font-size="13" text-anchor="middle">7/03/21</text>
<text class="b" transform="translate(798.27 1207.10) scale(1 1.1)" font-size="13" text-anchor="middle">7/31/21</text>
<text class="b" transform="translate(859.63 1207.10) scale(1 1.1)" font-size="13" text-anchor="middle">8/28/21</text>
<text class="b" x="463.35" y="1060.2" font-size="16" text-anchor="middle">British Columbia (BC)</text>
<text class="b" transform="translate(5.4 30.9) scale(1 1.1)" font-size="13.3">Total Tests</text>
<text class="b" transform="translate(808.6 26.9) scale(1 1.1)" font-size="13.3">% Tests Positive</text>
<rect x="233.5" y="1230.5" width="26" height="9" fill="#CCEBFF" stroke="#000" stroke-width="1" shape-rendering="crispEdges"/>
<text x="262.8" y="1241.0" font-size="19.5">Total Tests</text>
<path d="M469 1234.5 H496" stroke="#A80000" stroke-width="1" shape-rendering="crispEdges"/>
<path d="M482.5 1230.8 L486.2 1234.5 L482.5 1238.2 L478.8 1234.5Z" fill="#D00000" stroke="#8A0000" stroke-width="0.7"/>
<text x="498.5" y="1240.8" font-size="19.2">% Tests Positive</text>
</svg></body></html>
